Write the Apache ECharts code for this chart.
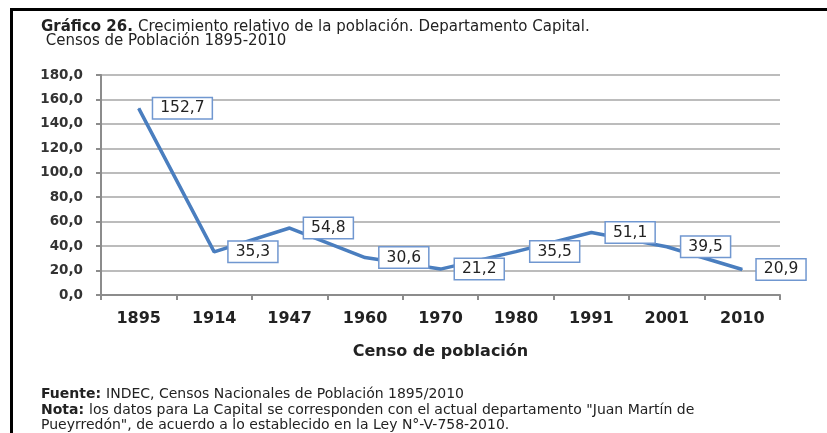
<!DOCTYPE html>
<html>
<head>
<meta charset="utf-8">
<script src="https://cdn.jsdelivr.net/npm/echarts@6/dist/echarts.min.js"></script>
<style>
  body { margin: 0; background: #fff; }
</style>
</head>
<body>
<div id="main" style="width: 827px; height: 433px"></div>
<script>
// datos del gráfico
var censos = ["1895", "1914", "1947", "1960", "1970", "1980", "1991", "2001", "2010"];
var crecimiento = [152.7, 35.3, 54.8, 30.6, 21.2, 35.5, 51.1, 39.5, 20.9];

var tituloLinea1 = "Gráfico 26.";
var tituloLinea1b = "Crecimiento relativo de la población. Departamento Capital.";
var tituloLinea2 = " Censos de Población 1895-2010";
var nombreEjeX = "Censo de población";
var fuente = "INDEC, Censos Nacionales de Población 1895/2010";
var nota1 = "los datos para La Capital se corresponden con el actual departamento \"Juan Martín de";
var nota2 = "Pueyrredón\", de acuerdo a lo establecido en la Ley N°-V-758-2010.";

function coma(v) {
  return Number(v).toFixed(1).replace(".", ",");
}

var myChart = echarts.init(document.getElementById("main"));

var fuenteTexto = "DejaVu Sans, Arial, sans-serif";

myChart.setOption({
  animation: false,
  backgroundColor: "#fff",
  title: [
    {
      text: "{b|" + tituloLinea1 + "} {n|" + tituloLinea1b + "}",
      left: 36,
      top: 13,
      textStyle: {
        rich: {
          b: { fontFamily: fuenteTexto, fontSize: 15, fontWeight: "bold", color: "#222" },
          n: { fontFamily: fuenteTexto, fontSize: 15, fontWeight: "normal", color: "#222" }
        }
      }
    },
    {
      text: tituloLinea2,
      left: 36,
      top: 29,
      textStyle: { fontFamily: fuenteTexto, fontSize: 15, fontWeight: "normal", color: "#222" }
    },
    {
      // pie de página: fuente y nota
      text: "{b|Fuente:} {n|" + fuente + "}\n{b|Nota:} {n|" + nota1 + "}\n{n|" + nota2 + "}",
      left: 36,
      top: 382,
      textStyle: {
        lineHeight: 15.5,
        rich: {
          b: { fontFamily: fuenteTexto, fontSize: 14, fontWeight: "bold", color: "#222", lineHeight: 15.5 },
          n: { fontFamily: fuenteTexto, fontSize: 14, fontWeight: "normal", color: "#222", lineHeight: 15.5 }
        }
      }
    }
  ],
  graphic: [
    // marco negro superior e izquierdo
    { type: "rect", shape: { x: 10, y: 8, width: 830, height: 3 }, style: { fill: "#000" } },
    { type: "rect", shape: { x: 10, y: 8, width: 3, height: 440 }, style: { fill: "#000" } }
  ],
  grid: {
    left: 101,
    right: 47,
    top: 75,
    bottom: 138
  },
  xAxis: {
    type: "category",
    data: censos,
    boundaryGap: true,
    name: nombreEjeX,
    nameLocation: "middle",
    nameGap: 49,
    nameTextStyle: { fontFamily: fuenteTexto, fontSize: 16, fontWeight: "bold", color: "#222" },
    axisLine: { lineStyle: { color: "#8c8c8c", width: 2 } },
    axisTick: { show: true, alignWithLabel: false, length: 5, lineStyle: { color: "#8c8c8c", width: 2 } },
    axisLabel: { margin: 16, fontFamily: fuenteTexto, fontSize: 16, fontWeight: "bold", color: "#222" }
  },
  yAxis: {
    type: "value",
    min: 0,
    max: 180,
    interval: 20,
    axisLine: { show: true, lineStyle: { color: "#8c8c8c", width: 2 } },
    axisTick: { show: true, length: 5, lineStyle: { color: "#8c8c8c", width: 2 } },
    axisLabel: {
      margin: 18,
      fontFamily: fuenteTexto,
      fontSize: 13.5,
      fontWeight: "bold",
      color: "#333",
      formatter: function (v) { return coma(v); }
    },
    splitLine: { lineStyle: { color: "#a6a6a6", width: 1.6 } }
  },
  series: [
    {
      type: "line",
      data: crecimiento,
      symbol: "circle",
      symbolSize: 1,
      itemStyle: { color: "#4a7ebf" },
      lineStyle: { color: "#4a7ebf", width: 3.5 },
      label: {
        show: true,
        position: "right",
        distance: 14,
        fontFamily: fuenteTexto,
        fontSize: 15.5,
        color: "#222",
        backgroundColor: "#fff",
        borderColor: "#7097d0",
        borderWidth: 1.5,
        padding: [2, 7, 2, 7],
        formatter: function (p) { return coma(p.value); }
      }
    }
  ]
});
</script>
</body>
</html>
